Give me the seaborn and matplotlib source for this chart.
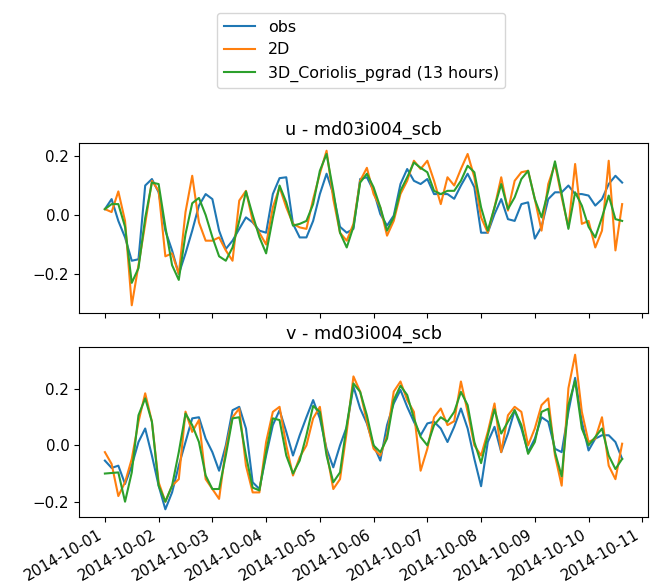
import pandas as pd
import seaborn as sns
import matplotlib
matplotlib.use('Agg')
import matplotlib.pyplot as plt
import matplotlib.dates as mdates
from matplotlib.ticker import MultipleLocator

# 3-hourly samples, starting 2014-10-01 00:00
times = pd.date_range('2014-10-01', periods=78, freq='3h')

u_obs = [0.02, 0.054, -0.02, -0.076, -0.155, -0.15, 0.1, 0.122, 0.077, -0.053,
         -0.12, -0.2, -0.13, -0.053, 0.032, 0.071, 0.054, -0.053, -0.115, -0.087,
         -0.047, -0.008, -0.025, -0.053, -0.06, 0.071, 0.125, 0.128, -0.03, -0.076,
         -0.076, -0.02, 0.071, 0.14, 0.071, -0.04, -0.06, -0.047, 0.122, 0.128,
         0.082, 0.003, -0.036, -0.002, 0.105, 0.156, 0.116, 0.105, 0.122, 0.071,
         0.071, 0.071, 0.055, 0.1, 0.14, 0.094, -0.06, -0.06, 0.003, 0.054,
         -0.014, -0.02, 0.037, 0.043, -0.08, -0.04, 0.054, 0.077, 0.077, 0.1,
         0.071, 0.071, 0.066, 0.032, 0.054, 0.105, 0.133, 0.11]
u_2d = [0.02, 0.01, 0.08, -0.02, -0.306, -0.17, -0.03, 0.116, 0.082, -0.14,
        -0.13, -0.2, 0.01, 0.133, -0.025, -0.087, -0.087, -0.076, -0.12, -0.155,
        0.049, 0.082, -0.02, -0.06, -0.1, 0.026, 0.094, 0.026, -0.03, -0.042,
        -0.047, 0.054, 0.14, 0.218, 0.054, -0.06, -0.087, -0.03, 0.116, 0.16,
        0.071, 0.026, -0.07, -0.02, 0.071, 0.116, 0.184, 0.156, 0.184, 0.116,
        0.037, 0.128, 0.1, 0.156, 0.207, 0.128, -0.008, -0.06, 0.026, 0.128,
        0.015, 0.116, 0.145, 0.15, 0.054, -0.053, 0.105, 0.173, 0.06, -0.042,
        0.173, -0.03, -0.02, -0.11, -0.053, 0.184, -0.12, 0.037]
u_3d = [0.02, 0.037, 0.037, -0.04, -0.23, -0.18, -0.01, 0.11, 0.105, -0.04,
        -0.17, -0.22, -0.065, 0.04, 0.058, 0.0, -0.075, -0.14, -0.155, -0.11,
        -0.02, 0.08, 0.0, -0.075, -0.13, -0.01, 0.1, 0.043, -0.036, -0.03,
        -0.02, 0.037, 0.15, 0.207, 0.082, -0.06, -0.11, -0.04, 0.11, 0.14,
        0.094, 0.026, -0.053, -0.008, 0.082, 0.128, 0.178, 0.16, 0.145, 0.082,
        0.071, 0.082, 0.082, 0.116, 0.167, 0.145, 0.026, -0.053, 0.026, 0.105,
        0.02, 0.06, 0.122, 0.15, 0.054, -0.008, 0.082, 0.182, 0.071, -0.047,
        0.077, 0.032, -0.04, -0.076, -0.008, 0.066, -0.014, -0.02]

v_obs = [-0.054, -0.08, -0.072, -0.137, -0.072, 0.012, 0.06, -0.036, -0.143, -0.227,
         -0.167, -0.072, 0.012, 0.096, 0.1, 0.024, -0.024, -0.09, 0.0, 0.125,
         0.137, 0.06, -0.131, -0.155, -0.036, 0.072, 0.125, 0.048, -0.036, 0.036,
         0.1, 0.161, 0.096, -0.012, -0.078, 0.0, 0.066, 0.209, 0.131, 0.078,
         0.0, -0.054, 0.072, 0.149, 0.197, 0.137, 0.084, 0.036, 0.078, 0.084,
         0.06, 0.012, 0.066, 0.131, 0.06, -0.048, -0.145, 0.012, 0.066, -0.024,
         0.042, 0.125, 0.06, -0.024, 0.024, 0.1, 0.084, -0.012, -0.024, 0.119,
         0.24, 0.084, -0.018, 0.024, 0.036, 0.036, 0.012, -0.048]
v_2d = [-0.024, -0.066, -0.18, -0.131, -0.048, 0.084, 0.185, 0.084, -0.131, -0.2,
        -0.143, -0.12, 0.12, 0.048, 0.09, -0.12, -0.155, -0.19, -0.012, 0.1,
        0.131, -0.072, -0.167, -0.167, 0.012, 0.119, 0.137, 0.0, -0.107, -0.042,
        0.0, 0.096, 0.137, -0.024, -0.155, -0.12, 0.048, 0.245, 0.191, 0.084,
        -0.012, -0.036, 0.036, 0.191, 0.227, 0.161, 0.119, -0.09, -0.012, 0.1,
        0.131, 0.072, 0.086, 0.227, 0.119, 0.0, -0.036, 0.048, 0.149, -0.024,
        0.107, 0.137, 0.119, 0.0, 0.06, 0.143, 0.167, -0.036, -0.143, 0.203,
        0.322, 0.119, 0.012, 0.024, 0.1, -0.072, -0.12, 0.006]
v_3d = [-0.1, -0.098, -0.096, -0.2, -0.096, 0.107, 0.167, 0.084, -0.143, -0.2,
        -0.143, -0.024, 0.113, 0.072, 0.012, -0.107, -0.155, -0.155, -0.036, 0.096,
        0.1, -0.036, -0.15, -0.16, -0.024, 0.096, 0.09, -0.036, -0.1, -0.054,
        0.036, 0.14, 0.119, -0.036, -0.131, -0.096, 0.072, 0.22, 0.19, 0.107,
        0.0, -0.024, 0.024, 0.161, 0.212, 0.179, 0.096, 0.03, 0.0, 0.072,
        0.1, 0.084, 0.119, 0.19, 0.143, 0.012, -0.063, 0.036, 0.128, 0.042,
        0.084, 0.125, 0.072, -0.03, 0.012, 0.119, 0.13, -0.024, -0.11, 0.143,
        0.23, 0.06, 0.0, 0.03, 0.06, -0.036, -0.084, -0.048]

labels = ['obs', '2D', '3D_Coriolis_pgrad (13 hours)']
station = 'md03i004_scb'

plt.rcParams['font.size'] = 10.8
plt.rcParams['axes.titlesize'] = 12.7
plt.rcParams['legend.fontsize'] = 11.4


def long_frame(series):
    parts = []
    for lab, vals in zip(labels, series):
        parts.append(pd.DataFrame({'time': times, 'value': vals, 'model': lab}))
    return pd.concat(parts, ignore_index=True)


df_u = long_frame([u_obs, u_2d, u_3d])
df_v = long_frame([v_obs, v_2d, v_3d])

fig, axes = plt.subplots(2, 1, sharex=True, figsize=(6.51, 5.86), dpi=100)

for ax, df, comp in zip(axes, [df_u, df_v], ['u', 'v']):
    sns.lineplot(data=df, x='time', y='value', hue='model', hue_order=labels,
                 ax=ax, legend=(comp == 'u'))
    ax.set_title(comp + ' - ' + station)
    ax.set_xlabel('')
    ax.set_ylabel('')
    ax.yaxis.set_major_locator(MultipleLocator(0.2))

handles, labs = axes[0].get_legend_handles_labels()
axes[0].get_legend().remove()
fig.legend(handles, labs, loc='upper center', bbox_to_anchor=(0.555, 0.991))

axes[1].xaxis.set_major_locator(mdates.DayLocator())
axes[1].xaxis.set_major_formatter(mdates.DateFormatter('%Y-%m-%d'))
fig.autofmt_xdate()

# autofmt_xdate moves the bottom edge, so place the axes afterwards
fig.subplots_adjust(left=0.1214, right=0.9954, top=0.756, bottom=0.1177, hspace=0.2)

fig.savefig('out.png', dpi=100)
